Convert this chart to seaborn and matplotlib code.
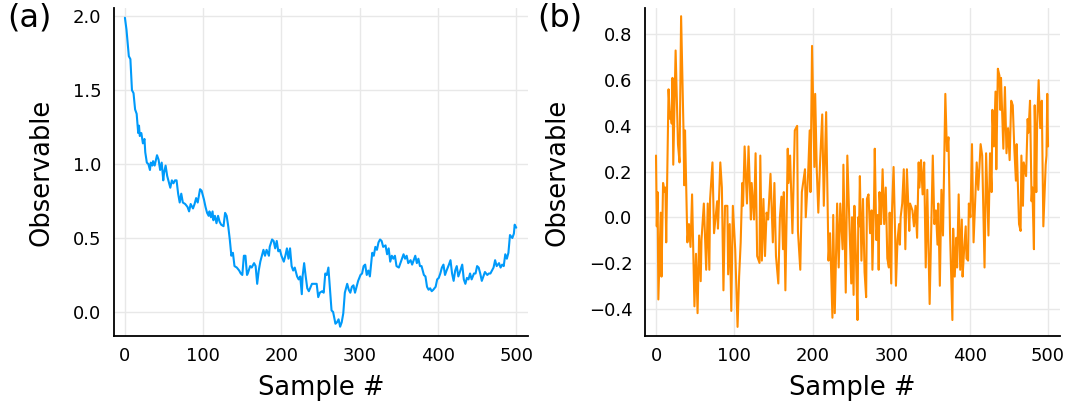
import numpy as np
import pandas as pd
import seaborn as sns
import matplotlib
matplotlib.use("Agg")
import matplotlib.pyplot as plt

# panel (a): slowly relaxing observable
a_x = [0, 2, 5, 7, 9, 11, 13, 15, 17, 18, 19, 21, 23, 25, 26, 28, 30, 32, 33, 35,
       36, 38, 41, 43, 45, 47, 49, 50, 52, 54, 56, 58, 60, 62, 64, 66, 68, 70, 72, 74,
       77, 80, 82, 84, 87, 89, 91, 93, 94, 96, 98, 101, 103, 105, 107, 108, 110, 112, 113, 115,
       117, 119, 121, 123, 126, 128, 130, 132, 134, 136, 138, 140, 143, 146, 148, 150, 152, 154, 156, 157,
       160, 162, 165, 167, 169, 171, 173, 175, 177, 179, 181, 184, 185, 188, 190, 192, 194, 196, 198, 200,
       203, 205, 207, 209, 211, 213, 215, 217, 220, 222, 224, 226, 227, 229, 231, 233, 235, 239, 242, 245,
       247, 249, 252, 254, 256, 258, 260, 262, 264, 266, 269, 271, 273, 275, 277, 279, 281, 284, 286, 288,
       290, 292, 294, 296, 298, 301, 303, 305, 307, 309, 311, 313, 316, 318, 320, 322, 324, 326, 328, 330,
       333, 335, 337, 339, 341, 343, 345, 347, 350, 352, 354, 356, 358, 360, 362, 365, 367, 369, 371, 373,
       375, 377, 379, 382, 384, 386, 388, 390, 392, 394, 397, 399, 401, 403, 405, 407, 409, 411, 414, 416,
       418, 420, 422, 424, 426, 428, 431, 433, 435, 437, 439, 441, 443, 446, 448, 450, 452, 454, 456, 458,
       460, 463, 465, 467, 469, 471, 473, 475, 478, 480, 482, 484, 486, 488, 490, 492, 495, 497, 498, 500]
a_y = [1.99, 1.91, 1.73, 1.71, 1.50, 1.48, 1.37, 1.34, 1.21, 1.26, 1.19, 1.21, 1.14, 1.17, 1.08, 1.01, 1.00, 0.96, 1.01, 0.99,
       1.02, 0.99, 1.06, 1.03, 0.96, 1.01, 0.89, 0.94, 0.99, 0.92, 0.88, 0.84, 0.89, 0.87, 0.89, 0.89, 0.80, 0.74, 0.80, 0.74,
       0.73, 0.71, 0.68, 0.73, 0.70, 0.73, 0.77, 0.74, 0.77, 0.83, 0.82, 0.76, 0.71, 0.67, 0.65, 0.68, 0.64, 0.68, 0.62, 0.65,
       0.60, 0.65, 0.61, 0.59, 0.58, 0.67, 0.65, 0.58, 0.49, 0.38, 0.40, 0.31, 0.30, 0.28, 0.26, 0.25, 0.38, 0.38, 0.25, 0.26,
       0.31, 0.30, 0.33, 0.31, 0.19, 0.28, 0.34, 0.38, 0.42, 0.38, 0.42, 0.38, 0.44, 0.49, 0.48, 0.43, 0.48, 0.41, 0.42, 0.38,
       0.34, 0.38, 0.43, 0.36, 0.43, 0.31, 0.28, 0.30, 0.24, 0.22, 0.24, 0.12, 0.24, 0.33, 0.24, 0.16, 0.14, 0.19, 0.19, 0.19,
       0.10, 0.13, 0.14, 0.13, 0.26, 0.25, 0.30, 0.15, 0.01, 0.00, -0.08, -0.07, -0.05, -0.10, -0.07, -0.01, 0.13, 0.19, 0.15, 0.13,
       0.17, 0.18, 0.13, 0.17, 0.21, 0.25, 0.26, 0.31, 0.32, 0.25, 0.28, 0.24, 0.40, 0.38, 0.44, 0.42, 0.47, 0.49, 0.48, 0.44,
       0.45, 0.39, 0.43, 0.34, 0.38, 0.36, 0.38, 0.31, 0.30, 0.33, 0.36, 0.39, 0.36, 0.38, 0.33, 0.35, 0.32, 0.35, 0.38, 0.33,
       0.36, 0.31, 0.31, 0.25, 0.24, 0.17, 0.15, 0.16, 0.14, 0.15, 0.17, 0.22, 0.23, 0.26, 0.30, 0.32, 0.25, 0.28, 0.32, 0.35,
       0.26, 0.21, 0.28, 0.31, 0.24, 0.27, 0.32, 0.22, 0.19, 0.23, 0.22, 0.26, 0.22, 0.26, 0.26, 0.31, 0.30, 0.26, 0.21, 0.24,
       0.27, 0.25, 0.26, 0.26, 0.28, 0.30, 0.35, 0.31, 0.33, 0.30, 0.32, 0.31, 0.39, 0.36, 0.40, 0.52, 0.50, 0.53, 0.59, 0.57]

# panel (b): fluctuating observable
b_x = [0, 1, 2, 3, 6, 7, 9, 11, 12, 13, 16, 18, 19, 20, 21, 22, 25, 28, 30, 32,
       35, 36, 37, 40, 42, 44, 46, 49, 51, 53, 55, 57, 58, 61, 64, 66, 68, 69, 72, 74,
       78, 79, 82, 84, 86, 88, 91, 92, 94, 96, 98, 101, 104, 106, 108, 110, 111, 113, 116, 118,
       121, 122, 125, 127, 129, 132, 133, 135, 137, 139, 141, 143, 145, 146, 149, 151, 153, 156, 158, 160,
       162, 163, 165, 168, 169, 171, 174, 177, 180, 181, 184, 186, 190, 191, 194, 196, 197, 199, 202, 203,
       205, 207, 209, 212, 214, 217, 220, 222, 225, 226, 228, 231, 233, 235, 238, 239, 242, 244, 249, 250,
       252, 253, 255, 257, 258, 259, 260, 262, 264, 266, 268, 269, 271, 273, 275, 276, 278, 279, 281, 283,
       284, 285, 287, 289, 291, 293, 295, 297, 298, 300, 301, 303, 305, 306, 308, 310, 311, 312, 314, 316,
       318, 320, 323, 324, 327, 329, 331, 333, 335, 336, 338, 340, 342, 344, 346, 349, 353, 355, 357, 359,
       360, 362, 364, 366, 367, 369, 371, 373, 375, 378, 379, 381, 383, 384, 386, 388, 390, 391, 393, 395,
       396, 398, 399, 401, 403, 405, 407, 409, 411, 414, 416, 419, 421, 424, 426, 428, 429, 431, 433, 434,
       436, 438, 439, 440, 443, 445, 447, 449, 451, 453, 455, 457, 459, 460, 463, 465, 466, 468, 469, 472,
       474, 475, 477, 479, 480, 482, 483, 485, 486, 488, 490, 492, 494, 497, 498, 499, 500]
b_y = [0.27, -0.04, 0.11, -0.36, 0.02, -0.26, 0.15, 0.11, 0.13, -0.11, 0.56, 0.43, 0.46, 0.41, 0.61, 0.23, 0.73, 0.32, 0.24, 0.88,
       0.39, 0.14, 0.38, -0.11, -0.03, -0.13, 0.10, -0.39, -0.16, -0.42, -0.08, -0.28, -0.10, 0.06, -0.23, 0.06, -0.23, 0.08, 0.24, -0.07,
       0.07, -0.05, 0.24, 0.13, -0.32, 0.05, 0.05, -0.25, -0.03, -0.41, 0.05, -0.14, -0.48, -0.26, -0.11, 0.15, 0.05, 0.31, 0.06, 0.31,
       -0.01, 0.15, -0.01, 0.28, -0.17, -0.20, 0.27, -0.19, 0.08, -0.17, 0.02, -0.01, 0.12, 0.19, -0.11, 0.15, -0.17, -0.29, 0.00, 0.09,
       -0.14, 0.11, -0.32, 0.30, 0.15, 0.27, -0.07, 0.38, 0.40, -0.06, -0.23, 0.11, 0.21, 0.00, 0.19, 0.38, 0.11, 0.75, 0.22, 0.54,
       0.21, 0.02, 0.22, 0.45, 0.05, 0.46, -0.19, -0.07, -0.44, 0.01, -0.42, 0.06, -0.22, 0.06, -0.14, 0.23, -0.33, 0.27, -0.29, 0.00,
       -0.34, 0.05, -0.17, -0.45, 0.00, -0.04, 0.18, -0.19, 0.08, -0.24, -0.35, 0.08, 0.10, -0.07, 0.03, -0.23, 0.06, 0.30, -0.10, 0.01,
       -0.23, 0.11, -0.03, 0.21, -0.03, 0.13, -0.18, -0.22, 0.02, -0.29, 0.03, 0.22, -0.08, -0.30, -0.10, -0.03, -0.12, 0.00, 0.06, 0.21,
       -0.14, 0.21, -0.06, 0.06, 0.03, -0.04, 0.05, -0.09, 0.24, 0.13, 0.25, 0.10, 0.24, -0.22, 0.12, -0.38, 0.27, -0.03, 0.03, -0.12,
       0.06, -0.30, 0.12, -0.08, 0.13, 0.54, 0.29, 0.35, -0.07, -0.45, -0.05, -0.26, -0.09, -0.22, 0.10, -0.23, -0.01, -0.26, -0.14, -0.04,
       -0.18, -0.19, 0.06, 0.00, 0.32, -0.11, 0.06, 0.24, 0.12, 0.32, 0.27, -0.22, 0.28, -0.08, 0.28, 0.11, 0.47, 0.31, 0.55, 0.21,
       0.65, 0.62, 0.47, 0.61, 0.30, 0.57, 0.28, 0.39, 0.25, 0.51, 0.49, 0.30, 0.16, 0.32, -0.03, -0.06, 0.27, 0.05, 0.24, 0.18,
       0.43, 0.37, 0.51, 0.07, 0.13, -0.14, 0.49, 0.11, 0.40, 0.60, 0.39, 0.51, -0.04, 0.23, 0.27, 0.54, 0.31]

x_ticks = [0, 100, 200, 300, 400, 500]
a_ticks = [0.0, 0.5, 1.0, 1.5, 2.0]
b_ticks = [-0.4, -0.2, 0.0, 0.2, 0.4, 0.6, 0.8]

sns.set_style("white")
plt.rcParams['font.family'] = ['DejaVu Sans']
plt.rcParams['text.color'] = 'black'
plt.rcParams['axes.labelcolor'] = 'black'

fig = plt.figure(figsize=(10.69, 4.07), dpi=100)
ax1 = fig.add_axes([0.1066, 0.1744, 0.3873, 0.806])
ax2 = fig.add_axes([0.6034, 0.1744, 0.388, 0.806])

sns.lineplot(x=a_x, y=a_y, ax=ax1, color="#009AFA", lw=1.5, sort=False, estimator=None)
sns.lineplot(x=b_x, y=b_y, ax=ax2, color="#FF8C00", lw=1.5, sort=False, estimator=None)

for ax, ticks, lim in [(ax1, a_ticks, (-0.163, 2.056)),
                       (ax2, b_ticks, (-0.52, 0.916))]:
    ax.set_xlim(-14, 515)
    ax.set_ylim(*lim)
    ax.set_xticks(x_ticks)
    ax.set_yticks(ticks)
    ax.set_yticklabels([f"{t:.1f}".replace("-", "\u2212") for t in ticks])
    ax.grid(True, color="#e8e8e8", lw=1)
    for s in ["top", "right"]:
        ax.spines[s].set_visible(False)
    for s in ["left", "bottom"]:
        ax.spines[s].set_color("black")
        ax.spines[s].set_linewidth(1.3)
    ax.tick_params(direction="in", length=5, width=1.2, labelsize=13, colors="black")
    ax.tick_params(axis="x", pad=8)
    ax.tick_params(axis="y", pad=9)
    ax.set_xlabel("Sample #", fontsize=18.5, labelpad=7)
    ax.set_ylabel("Observable", fontsize=18.5, labelpad=13)

fig.text(0.007, 0.955, "(a)", fontsize=23, va="center", ha="left")
fig.text(0.503, 0.955, "(b)", fontsize=23, va="center", ha="left")

fig.savefig("out.png", dpi=100)
